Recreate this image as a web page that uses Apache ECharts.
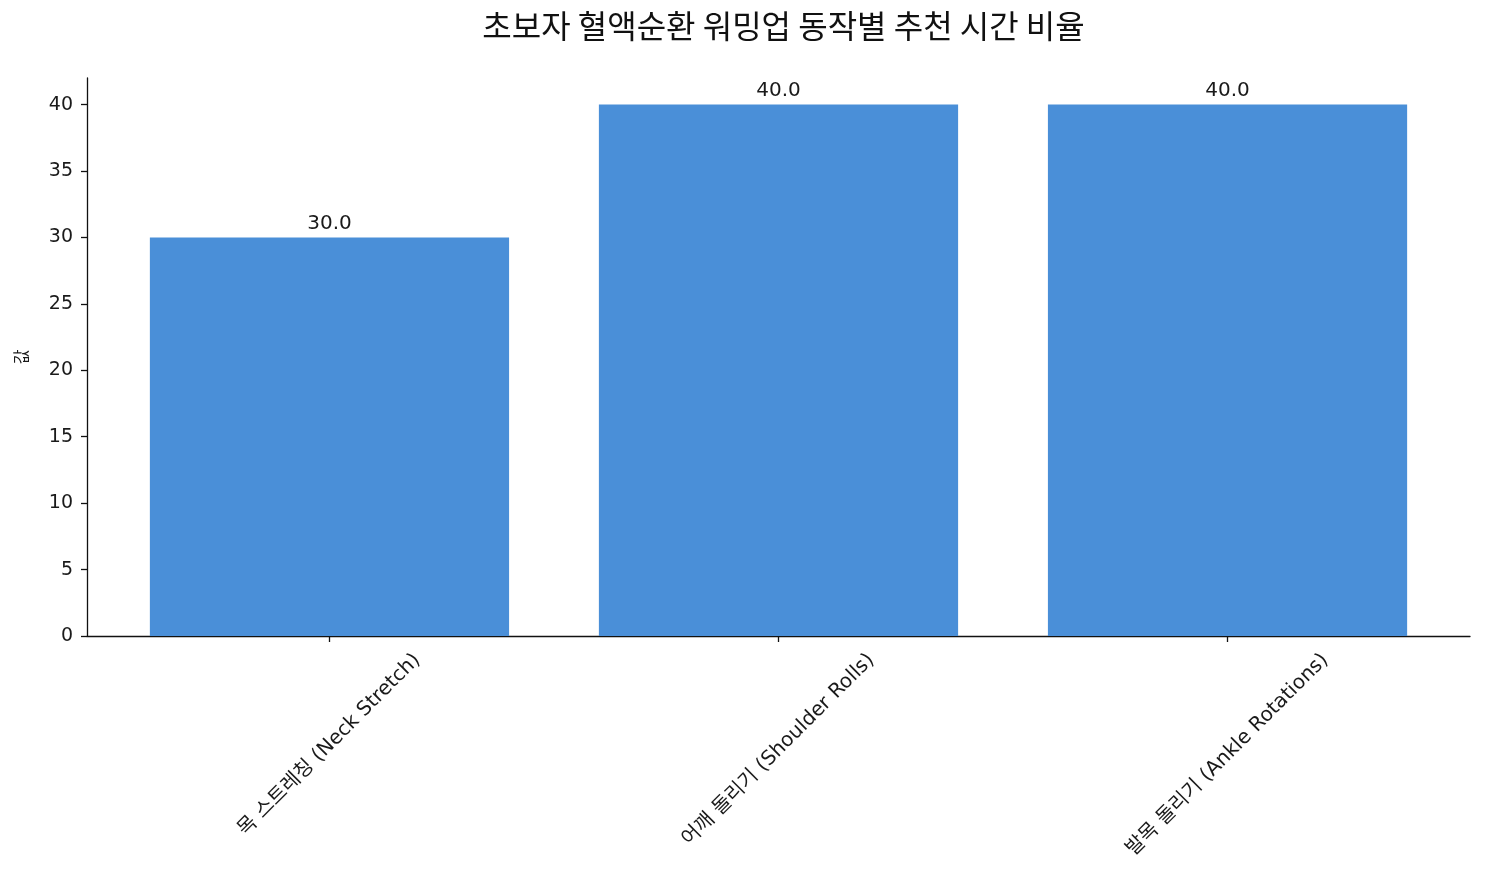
<!DOCTYPE html>
<html>
<head>
<meta charset="utf-8">
<script src="https://cdn.jsdelivr.net/npm/echarts@6/dist/echarts.min.js"></script>
<style>
html,body{margin:0;padding:0;background:#fff;}
#c{width:1485px;height:884px;}
</style>
</head>
<body>
<div id="c"></div>
<script>
const categories = ['목 스트레칭 (Neck Stretch)', '어깨 돌리기 (Shoulder Rolls)', '발목 돌리기 (Ankle Rotations)'];
const positions = [0, 1, 2];
const values = [30, 40, 40];
const yTicks = [0, 5, 10, 15, 20, 25, 30, 35, 40];
const titleText = '초보자 혈액순환 워밍업 동작별 추천 시간 비율';
const yName = '값';

const FONT = '"Noto Sans CJK KR", "Noto Sans", sans-serif';
const LFONT = '"DejaVu Sans", "Noto Sans CJK KR", sans-serif';
const W = 1485, H = 884;
const gridL = 87, gridR = 15, gridT = 78, gridB = 248;
const xMin = -0.54, xMax = 2.54;
const gridW = W - gridL - gridR;
const barW = 0.8 * gridW / (xMax - xMin);

const xFontSize = 20;
const cv = document.createElement('canvas').getContext('2d');
cv.font = xFontSize + 'px ' + LFONT;
const gap = 14;
const rich = {};
categories.forEach((c, i) => {
  const tw = cv.measureText(c).width;
  const pad = Math.SQRT2 * gap + (tw + xFontSize) / 2;
  rich['l' + i] = { padding: [pad, pad, 0, 0], fontSize: xFontSize, fontFamily: LFONT, color: '#1a1a1a' };
});

const chart = echarts.init(document.getElementById('c'), null, { renderer: 'canvas' });
chart.setOption({
  backgroundColor: '#ffffff',
  animation: false,
  textStyle: { fontFamily: FONT },
  title: {
    text: titleText,
    left: gridL + gridW / 2,
    textAlign: 'center',
    top: 5,
    textStyle: { fontFamily: FONT, fontSize: 32, fontWeight: 'normal', color: '#111' }
  },
  grid: { left: gridL, right: gridR, top: gridT, bottom: gridB, containLabel: false, outerBoundsMode: 'none' },
  xAxis: {
    type: 'value',
    min: xMin,
    max: xMax,
    splitLine: { show: false },
    axisLine: { show: true, onZero: false, lineStyle: { color: '#111', width: 1.3 } },
    axisTick: { show: true, customValues: positions, length: 6, lineStyle: { color: '#111', width: 1.3 } },
    axisLabel: {
      customValues: positions,
      rotate: 45,
      align: 'center',
      verticalAlign: 'middle',
      margin: 0,
      fontSize: xFontSize,
      color: '#1a1a1a',
      fontFamily: LFONT,
      formatter: function (v) {
        const i = Math.round(v);
        return '{l' + i + '|' + categories[i] + '}';
      },
      rich: rich
    }
  },
  yAxis: {
    type: 'value',
    min: 0,
    max: 42,
    name: yName,
    nameLocation: 'middle',
    nameRotate: 90,
    nameGap: 58,
    nameTextStyle: { fontFamily: FONT, fontSize: 16, color: '#1a1a1a' },
    splitLine: { show: false },
    axisLine: { show: true, onZero: false, lineStyle: { color: '#111', width: 1.3 } },
    axisTick: { show: true, customValues: yTicks, length: 6, lineStyle: { color: '#111', width: 1.3 } },
    axisLabel: { customValues: yTicks, margin: 14, fontSize: 19, color: '#1a1a1a', fontFamily: LFONT }
  },
  series: [{
    type: 'bar',
    data: positions.map((p, i) => [p, values[i]]),
    barWidth: barW,
    itemStyle: { color: '#4a8fd8' },
    label: {
      show: true,
      position: 'top',
      distance: 4,
      fontSize: 20,
      color: '#1a1a1a',
      fontFamily: LFONT,
      formatter: p => p.value[1].toFixed(1)
    }
  }]
});
</script>
</body>
</html>
